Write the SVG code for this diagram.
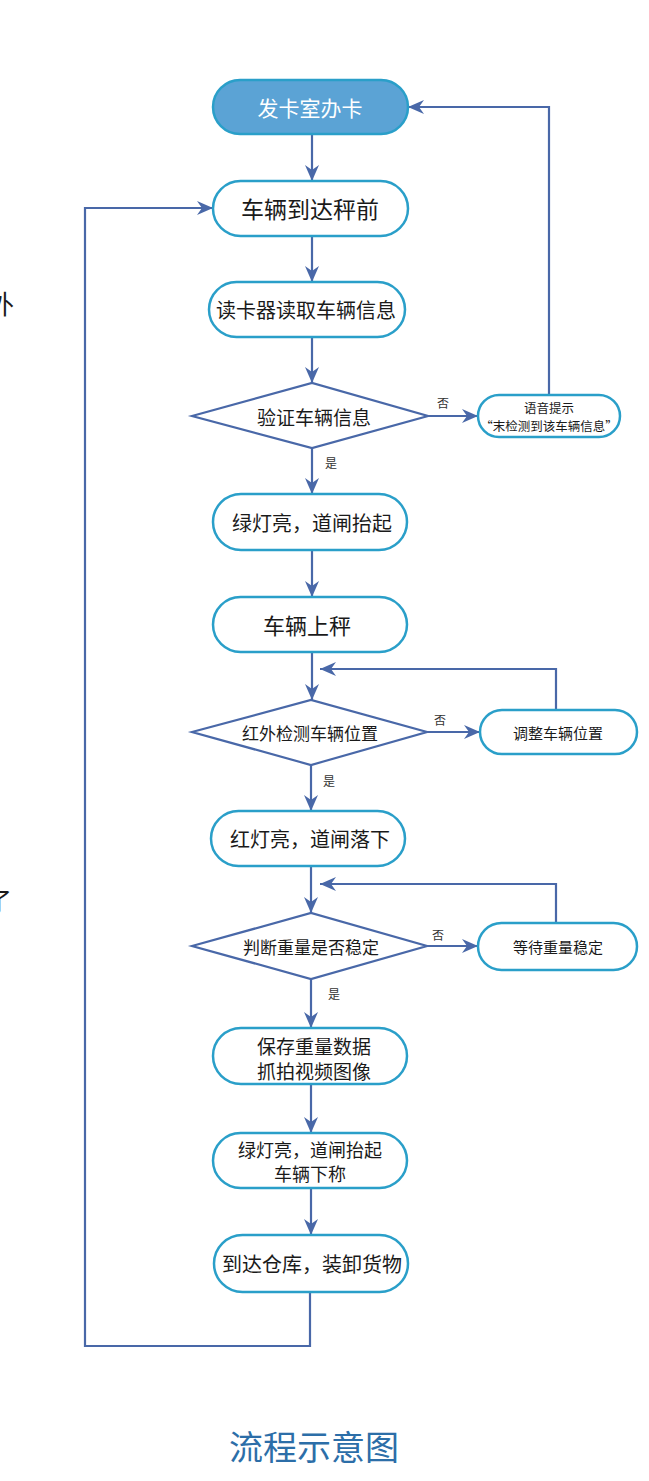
<svg xmlns="http://www.w3.org/2000/svg" width="649" height="1481" viewBox="0 0 649 1481">
<style>
.node{fill:#ffffff;stroke:#2a9fc9;stroke-width:2.5}
.start{fill:#5ba3d5;stroke:#2a9fc9;stroke-width:2.5}
.dia{fill:#ffffff;stroke:#4968a8;stroke-width:2.2}
.con{fill:none;stroke:#4968a8;stroke-width:2.2;marker-end:url(#ah)}
text{font-family:"Noto Sans CJK SC","Noto Sans",sans-serif;text-anchor:middle;dominant-baseline:central;fill:#1a1a1a}
.lbl{font-size:12px;fill:#333}
</style>
<defs>
<marker id="ah" markerUnits="userSpaceOnUse" markerWidth="16" markerHeight="14" refX="16" refY="7" orient="auto">
<path d="M0,0 L16,7 L0,14 L5,7 Z" fill="#4968a8"/>
</marker>
</defs>
<rect width="649" height="1481" fill="#ffffff"/>
<text x="-12" y="302" style="font-size:26px;text-anchor:start">外</text>
<text x="-14" y="899" style="font-size:26px;text-anchor:start">了</text>
<g id="connectors">
<path class="con" d="M312,134 V181"/>
<path class="con" d="M312,236 V282"/>
<path class="con" d="M312,337 V383"/>
<path class="con" d="M428,416 H478"/>
<path class="con" d="M549,395 V107 H408"/>
<path class="con" d="M312,448 V494"/>
<path class="con" d="M312,550 V597"/>
<path class="con" d="M312,652 V700"/>
<path class="con" d="M556,710 V669 H320"/>
<path class="con" d="M427,732 H480"/>
<path class="con" d="M311,765 V811"/>
<path class="con" d="M311,866 V913"/>
<path class="con" d="M556,923 V884 H320"/>
<path class="con" d="M427,946 H478"/>
<path class="con" d="M311,979 V1028"/>
<path class="con" d="M311,1084 V1133"/>
<path class="con" d="M311,1188 V1235"/>
<path class="con" d="M310,1292 V1346 H85 V208 H213"/>
<text class="lbl" x="443" y="402">否</text>
<text class="lbl" x="331" y="462">是</text>
<text class="lbl" x="440" y="719">否</text>
<text class="lbl" x="329" y="780">是</text>
<text class="lbl" x="438" y="934">否</text>
<text class="lbl" x="334" y="993">是</text>
</g>
<g id="n1"><rect class="start" x="213" y="80" width="195" height="54" rx="27"/><text x="310" y="107" style="font-size:21px;fill:#ffffff">发卡室办卡</text></g>
<g id="n2"><rect class="node" x="213" y="181" width="195" height="55" rx="27.5"/><text x="310" y="208" style="font-size:23px">车辆到达秤前</text></g>
<g id="n3"><rect class="node" x="209" y="282" width="196" height="55" rx="27.5"/><text x="306" y="309" style="font-size:20px">读卡器读取车辆信息</text></g>
<g id="d1"><polygon class="dia" points="192,416 312,383 428,416 312,448"/><text x="314" y="416" style="font-size:19px">验证车辆信息</text></g>
<g id="n4"><rect class="node" x="478" y="395" width="142" height="42" rx="21"/><text x="549" y="407" style="font-size:12.5px">语音提示</text><text x="549" y="425" style="font-size:12.5px">“末检测到该车辆信息”</text></g>
<g id="n5"><rect class="node" x="213" y="494" width="194" height="56" rx="28"/><text x="312" y="522" style="font-size:20px">绿灯亮，道闸抬起</text></g>
<g id="n6"><rect class="node" x="213" y="597" width="194" height="55" rx="27.5"/><text x="307" y="624" style="font-size:22px">车辆上秤</text></g>
<g id="d2"><polygon class="dia" points="192,732 311,700 427,732 311,765"/><text x="310" y="732" style="font-size:17px">红外检测车辆位置</text></g>
<g id="n7"><rect class="node" x="480" y="710" width="157" height="44" rx="22"/><text x="558" y="732" style="font-size:15px">调整车辆位置</text></g>
<g id="n8"><rect class="node" x="211" y="811" width="194" height="55" rx="27.5"/><text x="310" y="838" style="font-size:20px">红灯亮，道闸落下</text></g>
<g id="d3"><polygon class="dia" points="192,946 311,913 427,946 311,979"/><text x="311" y="946" style="font-size:17px">判断重量是否稳定</text></g>
<g id="n9"><rect class="node" x="478" y="923" width="159" height="47" rx="23.5"/><text x="558" y="946" style="font-size:15px">等待重量稳定</text></g>
<g id="n10"><rect class="node" x="213" y="1028" width="194" height="56" rx="28"/><text x="314" y="1045" style="font-size:19px">保存重量数据</text><text x="314" y="1070" style="font-size:19px">抓拍视频图像</text></g>
<g id="n11"><rect class="node" x="213" y="1133" width="194" height="55" rx="27.5"/><text x="310" y="1149" style="font-size:18px">绿灯亮，道闸抬起</text><text x="310" y="1173" style="font-size:18px">车辆下称</text></g>
<g id="n12"><rect class="node" x="214" y="1235" width="194" height="57" rx="28.5"/><text x="312" y="1263" style="font-size:20px">到达仓库，装卸货物</text></g>
<text x="314" y="1445" style="font-size:34px;fill:#2c6ea8">流程示意图</text>
</svg>
